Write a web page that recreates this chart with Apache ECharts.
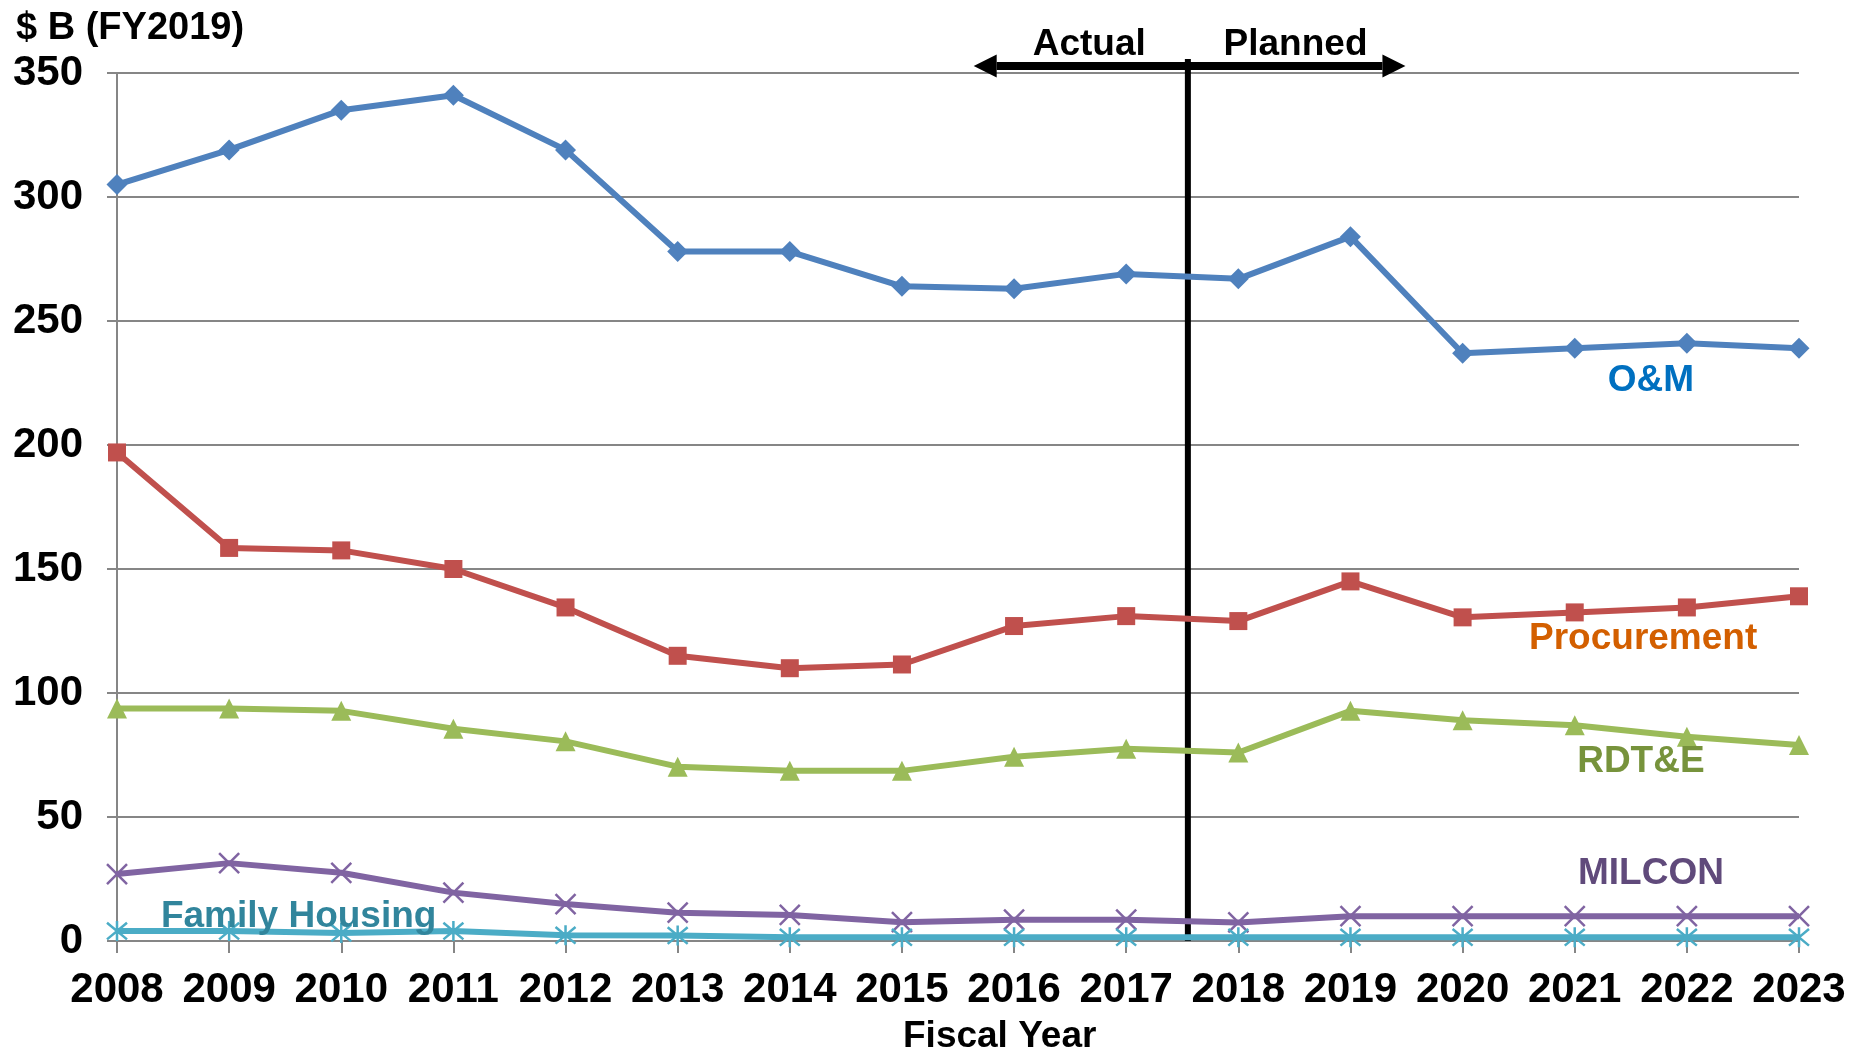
<!DOCTYPE html>
<html>
<head>
<meta charset="utf-8">
<script src="https://cdn.jsdelivr.net/npm/echarts@6/dist/echarts.min.js"></script>
<style>
  html, body { margin: 0; padding: 0; background: #fff; }
  #chart { width: 1851px; height: 1051px; }
</style>
</head>
<body>
<div id="chart"></div>
<script>
const years = [2008, 2009, 2010, 2011, 2012, 2013, 2014, 2015, 2016, 2017, 2018, 2019, 2020, 2021, 2022, 2023];
const omValues = [305, 319, 335, 341, 319, 278, 278, 264, 263, 269, 267, 284, 237, 239, 241, 239];
const procurementValues = [197, 158.5, 157.5, 150, 134.5, 115, 110, 111.5, 127, 131, 129, 145, 130.5, 132.5, 134.5, 139];
const rdteValues = [93.8, 93.8, 92.8, 85.6, 80.5, 70.3, 68.6, 68.6, 74.3, 77.5, 76, 92.8, 89, 87, 82.4, 79];
const milconValues = [27, 31.4, 27.5, 19.5, 14.9, 11.4, 10.5, 7.6, 8.6, 8.6, 7.5, 10, 10, 10, 10, 10];
const housingValues = [4, 4, 3.2, 4, 2.3, 2.2, 1.5, 1.5, 1.5, 1.5, 1.5, 1.5, 1.5, 1.5, 1.5, 1.5];
const yTicks = [0, 50, 100, 150, 200, 250, 300, 350];

const font = 'Liberation Sans, Arial, sans-serif';
const toPairs = vals => years.map((y, i) => [y, vals[i]]);

const chart = echarts.init(document.getElementById('chart'));

function lineSeries(name, vals, color, symbol, size, extra) {
  return Object.assign({
    name: name,
    type: 'line',
    data: toPairs(vals),
    symbol: symbol,
    symbolSize: size,
    showAllSymbol: true,
    lineStyle: { color: color, width: 6 },
    itemStyle: { color: color },
    emphasis: { disabled: true }
  }, extra || {});
}

function tag(text, coord, color) {
  return {
    name: text,
    coord: coord,
    symbol: 'rect',
    symbolSize: 1,
    itemStyle: { color: 'rgba(0,0,0,0)' },
    label: {
      show: true,
      position: 'inside',
      formatter: '{b}',
      color: color,
      fontFamily: font,
      fontWeight: 'bold',
      fontSize: 37
    }
  };
}

const xMark = 'path://M0,0L10,10M10,0L0,10';
const starMark = 'path://M0,0L10,10M10,0L0,10M5,-1L5,11';

const option = {
  animation: false,
  title: [
    {
      text: '$ B (FY2019)',
      left: 11, top: 5,
      textStyle: { fontFamily: font, fontWeight: 'bold', fontSize: 38, color: '#000' }
    },
    {
      text: 'Fiscal Year',
      left: 898, top: 1013,
      textStyle: { fontFamily: font, fontWeight: 'bold', fontSize: 37, color: '#000' }
    }
  ],
  grid: { left: 117, right: 52, top: 73, bottom: 110, containLabel: false },
  xAxis: {
    type: 'value',
    min: 2008, max: 2023, interval: 1,
    axisLine: { show: true, lineStyle: { color: '#868686', width: 2 } },
    axisTick: { show: true, length: 12, lineStyle: { color: '#868686', width: 2 } },
    splitLine: { show: false },
    axisLabel: {
      margin: 28,
      color: '#000',
      fontFamily: font,
      fontWeight: 'bold',
      fontSize: 42,
      formatter: v => String(v)
    }
  },
  yAxis: {
    type: 'value',
    min: yTicks[0], max: yTicks[yTicks.length - 1], interval: 50,
    axisLine: { show: true, lineStyle: { color: '#868686', width: 2 } },
    axisTick: { show: true, length: 10, lineStyle: { color: '#868686', width: 2 } },
    splitLine: { show: true, lineStyle: { color: '#868686', width: 2 } },
    axisLabel: {
      margin: 34,
      color: '#000',
      fontFamily: font,
      fontWeight: 'bold',
      fontSize: 42
    }
  },
  series: [
    lineSeries('O&M', omValues, '#4F81BD', 'diamond', 21),
    lineSeries('Procurement', procurementValues, '#C0504D', 'rect', 18),
    lineSeries('RDT&E', rdteValues, '#9BBB59', 'triangle', 20),
    lineSeries('MILCON', milconValues, '#8064A2', xMark, 20, {
      itemStyle: { color: '#8064A2', borderColor: '#8064A2', borderWidth: 2.5 },
      markPoint: {
        silent: true,
        data: [
          tag('O&M', [2021.68, 225.8], '#0070C0'),
          tag('Procurement', [2021.61, 122.0], '#D35F00'),
          tag('RDT&E', [2021.59, 72.2], '#77933C'),
          tag('MILCON', [2021.68, 27.0], '#604A7B')
        ]
      }
    }),
    lineSeries('Family Housing', housingValues, '#4BACC6', starMark, 20, {
      itemStyle: { color: '#4BACC6', borderColor: '#4BACC6', borderWidth: 2.5 },
      markPoint: {
        silent: true,
        data: [tag('Family Housing', [2009.62, 9.7], '#31859C')]
      }
    })
  ]
};

chart.setOption(option);

// Actual / Planned divider, placed in data coordinates (above the y max, so drawn as graphics)
function drawDivider() {
  const px = c => chart.convertToPixel({ gridIndex: 0 }, c);
  const bottom = px([2017.55, 0]);
  const top = px([2017.55, 355.6]);
  const left = px([2015.64, 352.8]);
  const right = px([2019.49, 352.8]);
  const head = 23, half = 11.5;
  const textStyle = { fill: '#000', font: 'bold 37px ' + font, textAlign: 'center', textVerticalAlign: 'middle' };
  const a = px([2016.67, 361.5]);
  const p = px([2018.51, 361.5]);
  chart.setOption({
    graphic: [
      { type: 'line', z: 3, shape: { x1: bottom[0], y1: bottom[1], x2: top[0], y2: top[1] }, style: { stroke: '#000', lineWidth: 6 } },
      { type: 'line', z: 100, shape: { x1: left[0] + head, y1: left[1], x2: right[0] - head, y2: right[1] }, style: { stroke: '#000', lineWidth: 8 } },
      { type: 'polygon', z: 100, shape: { points: [[left[0], left[1]], [left[0] + head, left[1] - half], [left[0] + head, left[1] + half]] }, style: { fill: '#000' } },
      { type: 'polygon', z: 100, shape: { points: [[right[0], right[1]], [right[0] - head, right[1] - half], [right[0] - head, right[1] + half]] }, style: { fill: '#000' } },
      { type: 'text', z: 100, x: a[0], y: a[1], style: Object.assign({ text: 'Actual' }, textStyle) },
      { type: 'text', z: 100, x: p[0], y: p[1], style: Object.assign({ text: 'Planned' }, textStyle) }
    ]
  });
}
drawDivider();

window.addEventListener('resize', () => { chart.resize(); drawDivider(); });
</script>
</body>
</html>
